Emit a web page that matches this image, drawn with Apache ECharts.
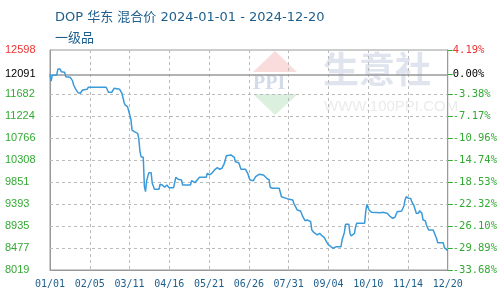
<!DOCTYPE html>
<html><head><meta charset="utf-8">
<script src="https://cdn.jsdelivr.net/npm/echarts@6/dist/echarts.min.js"></script>
<style>html,body{margin:0;padding:0;background:#fff}#c{width:500px;height:300px}</style>
</head><body><div id="c"></div>
<script>
const titleText = 'DOP 华东 混合价 2024-01-01 - 2024-12-20';
const subtitleText = '一级品';
const basePrice = 12091;
const yMin = 8019, yMax = 12598;
const leftTickValues = [8019, 8477, 8935, 9393, 9851, 10308, 10766, 11224, 11682, 12091, 12598];
const rightTickLabels = ['-33.68%', '-29.89%', '-26.10%', '-22.32%', '-18.53%', '-14.74%', '-10.96%', '-7.17%', '-3.38%', '0.00%', '4.19%'];
const gridValues = [8477, 8935, 9393, 9851, 10308, 10766, 11224, 11682];
const startDate = '2024-01-01', endDate = '2024-12-20';
const dates = [
 '2024-01-01','2024-01-02','2024-01-03','2024-01-07','2024-01-08','2024-01-10','2024-01-11','2024-01-14','2024-01-15','2024-01-19',
 '2024-01-21','2024-01-22','2024-01-24','2024-01-26','2024-01-28','2024-01-30','2024-02-03','2024-02-04','2024-02-20','2024-02-22',
 '2024-02-25','2024-02-27','2024-03-03','2024-03-05','2024-03-06','2024-03-07','2024-03-08','2024-03-10','2024-03-11','2024-03-12',
 '2024-03-13','2024-03-14','2024-03-16','2024-03-19','2024-03-20','2024-03-21','2024-03-22','2024-03-24','2024-03-25','2024-03-26',
 '2024-03-27','2024-03-29','2024-03-31','2024-04-01','2024-04-03','2024-04-07','2024-04-08','2024-04-10','2024-04-12','2024-04-14',
 '2024-04-16','2024-04-20','2024-04-22','2024-04-24','2024-04-27','2024-04-28','2024-05-05','2024-05-06','2024-05-09','2024-05-13',
 '2024-05-14','2024-05-16','2024-05-19','2024-05-20','2024-05-22','2024-05-24','2024-05-27','2024-05-29','2024-05-31','2024-06-02',
 '2024-06-04','2024-06-06','2024-06-10','2024-06-13','2024-06-14','2024-06-17','2024-06-19','2024-06-23','2024-06-25','2024-06-26',
 '2024-06-27','2024-06-30','2024-07-02','2024-07-05','2024-07-09','2024-07-12','2024-07-14','2024-07-15','2024-07-17','2024-07-23',
 '2024-07-25','2024-07-30','2024-07-31','2024-08-04','2024-08-05','2024-08-08','2024-08-11','2024-08-13','2024-08-15','2024-08-17',
 '2024-08-20','2024-08-21','2024-08-23','2024-08-26','2024-08-28','2024-08-30','2024-09-01','2024-09-03','2024-09-05','2024-09-07',
 '2024-09-09','2024-09-12','2024-09-16','2024-09-17','2024-09-19','2024-09-20','2024-09-23','2024-09-24','2024-09-25','2024-09-28',
 '2024-09-29','2024-09-30','2024-10-07','2024-10-08','2024-10-09','2024-10-11','2024-10-13','2024-10-21','2024-10-23','2024-10-27',
 '2024-10-30','2024-11-01','2024-11-03','2024-11-05','2024-11-06','2024-11-09','2024-11-11','2024-11-12','2024-11-13','2024-11-15',
 '2024-11-17','2024-11-18','2024-11-20','2024-11-22','2024-11-24','2024-11-25','2024-11-27','2024-11-28','2024-11-30','2024-12-01',
 '2024-12-03','2024-12-07','2024-12-08','2024-12-10','2024-12-11','2024-12-16','2024-12-17','2024-12-20'
];
const prices = [
 12091,11950,12070,12078,12200,12200,12147,12135,12043,12029,
 11960,11870,11780,11710,11697,11766,11780,11822,11822,11718,
 11718,11800,11780,11697,11600,11500,11450,11420,11400,11245,
 11160,10930,10898,10864,10760,10500,10377,10365,9760,9650,
 9880,10045,10045,9824,9700,9700,9803,9789,9741,9789,
 9733,9733,9949,9907,9893,9789,9789,9878,9836,9949,
 9982,9949,9949,10032,9997,10032,10115,10149,10115,10136,
 10226,10398,10413,10365,10273,10253,10115,10115,10032,9949,
 9893,9878,9962,10011,9997,9928,9893,9741,9720,9720,
 9545,9504,9491,9477,9407,9269,9248,9129,9046,9060,
 9025,8852,8796,8748,8783,8734,8700,8609,8540,8505,
 8471,8505,8505,8650,8800,8970,8970,8783,8727,8783,
 8921,8991,8991,9233,9387,9269,9220,9213,9220,9199,
 9129,9095,9116,9233,9248,9248,9352,9477,9545,9512,
 9505,9441,9352,9199,9199,9254,9199,9060,9046,8956,
 8852,8852,8817,8679,8588,8588,8484,8422
];

const DAY = 86400000;
function toMs(s){const p=s.split('-');return Date.UTC(+p[0],+p[1]-1,+p[2]);}
const t0 = toMs(startDate);
const totalDays = (toMs(endDate)-t0)/DAY;
const seriesData = dates.map((d,i)=>[(toMs(d)-t0)/DAY, prices[i]]);
function dayLabel(v){
  const d = new Date(t0 + Math.floor(v+1e-6)*DAY);
  const mm = String(d.getUTCMonth()+1).padStart(2,'0');
  const dd = String(d.getUTCDate()).padStart(2,'0');
  return mm+'/'+dd;
}
const RED='#ee3333', GREEN='#33aa33', BLUE_TXT='#1d5e8c', GRIDC='#bbbbbb', BORDER='#999999';
const dash = {color:GRIDC,width:1,type:[3,3]};

const chart = echarts.init(document.getElementById('c'), null, {renderer:'canvas'});
chart.setOption({
  animation:false,
  title:[
    {text:titleText,left:50,top:6,textStyle:{color:BLUE_TXT,fontSize:13,fontWeight:'normal',fontFamily:'"DejaVu Sans","Noto Sans CJK SC",sans-serif'}},
    {text:subtitleText,left:50,top:26,textStyle:{color:BLUE_TXT,fontSize:13,fontWeight:'normal',fontFamily:'"Noto Sans CJK SC",sans-serif'}}
  ],
  graphic:[
    {type:'polygon',silent:true,z:0,shape:{points:[[275,51],[253,72],[297,72]]},style:{fill:'#fadcdc'}},
    {type:'polygon',silent:true,z:0,shape:{points:[[253,94],[298,94],[275,115]]},style:{fill:'#dcf0df'}},
    {type:'text',silent:true,z:0,left:253,top:74,style:{text:'PPI',fill:'#d3dae9',font:'bold 20px "Liberation Serif",serif'}},
    {type:'text',silent:true,z:0,left:323,top:51,style:{text:'生意社',fill:'#dfe4ee',font:'bold 36px "Noto Sans CJK SC",sans-serif'}},
    {type:'text',silent:true,z:0,left:324,top:99,style:{text:'WWW.100PPI.COM',fill:'#ebebeb',font:'15px "Liberation Sans",Arial,sans-serif'}}
  ],
  grid:{left:50,right:50,top:50,bottom:30,show:true,borderColor:BORDER,borderWidth:1},
  xAxis:{type:'value',min:0,max:totalDays,interval:totalDays/10,
     axisLine:{show:true,onZero:false,lineStyle:{color:BORDER}},
     axisTick:{show:false},
     axisLabel:{formatter:dayLabel,color:BLUE_TXT,fontSize:10,fontFamily:'"DejaVu Sans Mono",monospace',margin:9},
     splitLine:{show:true,lineStyle:dash}},
  yAxis:[
    {type:'value',min:yMin,max:yMax,position:'left',
     axisLine:{show:true,onZero:false,lineStyle:{color:BORDER}},
     axisTick:{show:false},
     splitLine:{show:false},
     axisLabel:{customValues:leftTickValues,align:'left',margin:45,fontSize:11,fontFamily:'"Liberation Sans",Arial,sans-serif',
       formatter:v=>String(v),
       color:(v)=>{v=+v;return v===yMax?RED:(v===basePrice?'#000':GREEN);}}
    },
    {type:'value',min:yMin,max:yMax,position:'right',
     axisLine:{show:true,onZero:false,lineStyle:{color:BORDER}},
     axisTick:{show:true,length:5,customValues:leftTickValues,lineStyle:{color:GREEN}},
     splitLine:{show:false},
     axisLabel:{customValues:leftTickValues,margin:5,fontSize:10.5,fontFamily:'"DejaVu Sans Mono",monospace',
       formatter:(v)=>{const i=leftTickValues.indexOf(+v);return i>=0?rightTickLabels[i]:'';},
       color:(v)=>{v=+v;return v===yMax?RED:(v===basePrice?'#000':GREEN);}}
    }
  ],
  series:[
    {type:'line',data:seriesData,showSymbol:false,symbol:'none',z:3,
     lineStyle:{color:'#3b9ad9',width:1.5},
     markLine:{silent:true,symbol:'none',label:{show:false},z:1,
       data:gridValues.map(v=>({yAxis:v,lineStyle:dash})).concat([{yAxis:basePrice,lineStyle:{color:BORDER,width:1.5,type:'solid'}}])}}
  ]
});
</script></body></html>
